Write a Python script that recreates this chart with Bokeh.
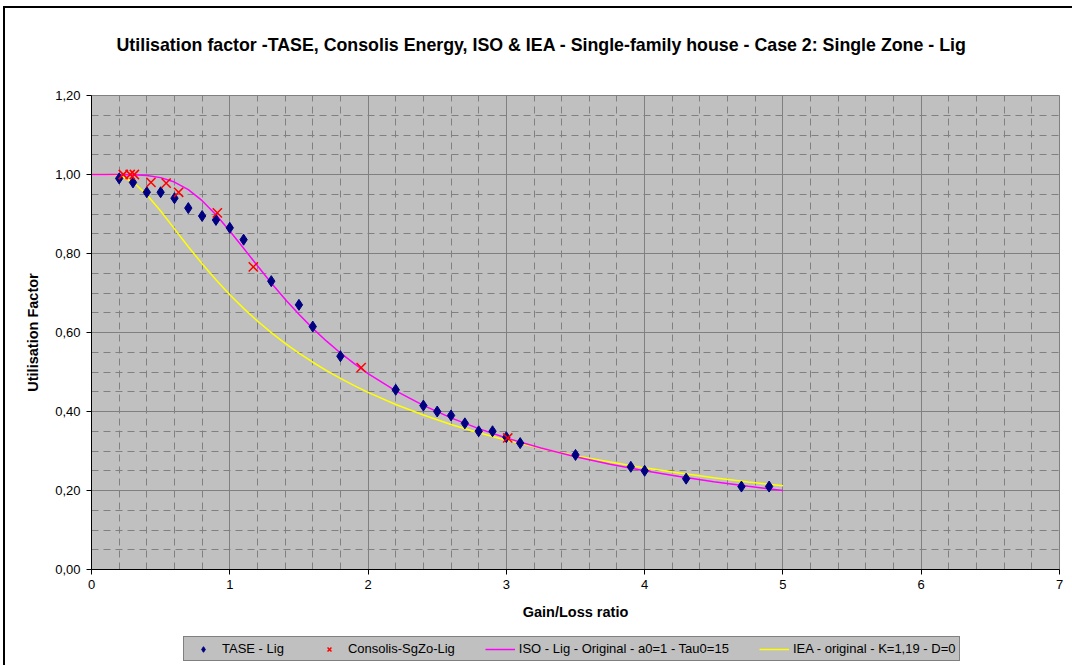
from bokeh.plotting import figure
from bokeh.layouts import column
from bokeh.models import Range1d, FixedTicker, CustomJSTickFormatter, Legend, LegendItem
from bokeh.embed import file_html
from bokeh.resources import INLINE

# ---- data ----
tase_x = [0.2, 0.3, 0.4, 0.5, 0.6, 0.7, 0.8, 0.9, 1.0, 1.1, 1.3, 1.5, 1.6, 1.8,
          2.2, 2.4, 2.5, 2.6, 2.7, 2.8, 2.9, 3.0, 3.1, 3.5, 3.9, 4.0, 4.3, 4.7, 4.9]
tase_y = [0.99, 0.98, 0.955, 0.955, 0.94, 0.915, 0.895, 0.885, 0.865, 0.835, 0.73, 0.67, 0.615, 0.54,
          0.455, 0.415, 0.40, 0.39, 0.37, 0.35, 0.35, 0.335, 0.32, 0.29, 0.26, 0.25, 0.23, 0.21, 0.21]

consolis_x = [0.23, 0.28, 0.31, 0.43, 0.54, 0.63, 0.91, 1.17, 1.95, 3.01]
consolis_y = [1.0, 1.0, 1.0, 0.98, 0.978, 0.955, 0.903, 0.766, 0.511, 0.333]

curve_x = [0.0, 0.1, 0.2, 0.3, 0.4, 0.5, 0.6, 0.7, 0.8, 0.9, 1.0, 1.1, 1.2, 1.3, 1.4, 1.5,
           1.6, 1.7, 1.8, 1.9, 2.0, 2.2, 2.4, 2.6, 2.8, 3.0, 3.25, 3.5, 3.75, 4.0,
           4.25, 4.5, 4.75, 5.0]
iso_y = [1.0, 1.0, 1.0, 0.9995, 0.9975, 0.9921, 0.9808, 0.9615, 0.9337, 0.8981, 0.8571,
         0.8133, 0.7688, 0.7255, 0.6843, 0.6460, 0.6105, 0.5780, 0.5482, 0.5210, 0.4961,
         0.4524, 0.4154, 0.3839, 0.3567, 0.3330, 0.3075, 0.2856, 0.2666, 0.2500,
         0.2353, 0.2222, 0.2105, 0.2000]
iea_y = [1.0, 1.0, 0.9974, 0.9811, 0.9490, 0.9074, 0.8624, 0.8173, 0.7740, 0.7334, 0.6958,
         0.6610, 0.6290, 0.5996, 0.5726, 0.5477, 0.5247, 0.5034, 0.4837, 0.4654, 0.4484,
         0.4178, 0.3910, 0.3673, 0.3462, 0.3274, 0.3066, 0.2882, 0.2719, 0.2573,
         0.2442, 0.2324, 0.2216, 0.2118]

x_ticks = [0, 1, 2, 3, 4, 5, 6, 7]
x_minor = [i / 5 for i in range(36) if i % 5 != 0]
y_ticks = [0.0, 0.2, 0.4, 0.6, 0.8, 1.0, 1.2]
y_minor = [i / 20 for i in range(25) if i % 4 != 0]

title_text = "Utilisation factor -TASE, Consolis Energy, ISO & IEA - Single-family house - Case 2: Single Zone - Lig"
labels = ["TASE - Lig", "Consolis-SgZo-Lig", "ISO - Lig - Original - a0=1 - Tau0=15",
          "IEA - original - K=1,19 - D=0"]

FONT = "Liberation Sans"
C_TASE, C_CONS, C_ISO, C_IEA = "#000080", "#FF0000", "#FF00FF", "#FFFF00"

p = figure(frame_width=968, frame_height=474, output_backend="svg", toolbar_location=None,
           x_range=Range1d(0, 7), y_range=Range1d(0, 1.2),
           min_border_left=86, min_border_right=13, min_border_top=87, min_border_bottom=56)

p.background_fill_color = "#C0C0C0"
p.border_fill_color = "white"
p.outline_line_color = "#808080"

# title (second blank line only reserves vertical room)
p.title.text = title_text + "\n "
p.title.align = "left"
p.title.vertical_align = "top"
p.title.offset = 25
p.title.standoff = 37
p.title.text_font = FONT
p.title.text_font_size = "17.8px"
p.title.text_font_style = "bold"
p.title.text_color = "black"

# grids
p.xgrid.ticker = FixedTicker(ticks=x_ticks, minor_ticks=x_minor)
p.ygrid.ticker = FixedTicker(ticks=y_ticks, minor_ticks=y_minor)
for g in (p.xgrid, p.ygrid):
    g.grid_line_color = "#808080"
    g.grid_line_width = 1
    g.minor_grid_line_color = "#808080"
    g.minor_grid_line_dash = "7 5"
    g.minor_grid_line_width = 1

# axes
p.xaxis.ticker = FixedTicker(ticks=x_ticks)
p.yaxis.ticker = FixedTicker(ticks=y_ticks)
p.yaxis.formatter = CustomJSTickFormatter(code="return tick.toFixed(2).replace('.', ',');")
p.xaxis.axis_label = "Gain/Loss ratio"
p.yaxis.axis_label = "Utilisation Factor"
for ax in (p.xaxis, p.yaxis):
    ax.axis_line_color = "black"
    ax.major_tick_line_color = "black"
    ax.major_tick_out = 5
    ax.major_tick_in = 0
    ax.minor_tick_out = 0
    ax.minor_tick_in = 0
    ax.major_label_text_font = FONT
    ax.major_label_text_font_size = "13px"
    ax.major_label_text_color = "black"
    ax.axis_label_text_font = FONT
    ax.axis_label_text_font_size = "14.5px"
    ax.axis_label_text_font_style = "bold"
    ax.axis_label_text_color = "black"
p.xaxis.major_label_standoff = 5
p.xaxis.axis_label_standoff = 12
p.yaxis.major_label_standoff = 6
p.yaxis.axis_label_standoff = 11

# series
p.line(curve_x, iea_y, line_color=C_IEA, line_width=1.5)
p.line(curve_x, iso_y, line_color=C_ISO, line_width=1.5)
p.scatter(tase_x, tase_y, marker="diamond", size=11, fill_color=C_TASE, line_color=C_TASE)
p.scatter(consolis_x, consolis_y, marker="x", size=13, line_color=C_CONS, line_width=1.5)

# legend strip below the chart: its own small canvas whose y range lies above
# every data value, so the series there only lend their styles to the legend keys
lg = figure(width=1067, height=40, output_backend="svg", toolbar_location=None,
            x_range=Range1d(0, 7), y_range=Range1d(5, 6),
            min_border_left=0, min_border_right=0, min_border_top=0, min_border_bottom=0)
lg.axis.visible = False
lg.grid.visible = False
lg.outline_line_color = None
lg.background_fill_color = "white"
lg.border_fill_color = "white"
k_tase = lg.scatter(tase_x, tase_y, marker="diamond", size=11, fill_color=C_TASE, line_color=C_TASE)
k_cons = lg.scatter(consolis_x, consolis_y, marker="x", size=11, line_color=C_CONS, line_width=1.5)
k_iso = lg.line(curve_x, iso_y, line_color=C_ISO, line_width=1.5)
k_iea = lg.line(curve_x, iea_y, line_color=C_IEA, line_width=1.5)

legend = Legend(items=[LegendItem(label=labels[0], renderers=[k_tase]),
                       LegendItem(label=labels[1], renderers=[k_cons]),
                       LegendItem(label=labels[2], renderers=[k_iso]),
                       LegendItem(label=labels[3], renderers=[k_iea])],
                orientation="horizontal", location=(92, 4))
legend.background_fill_color = "#C0C0C0"
legend.background_fill_alpha = 1
legend.border_line_color = "#404040"
legend.border_line_width = 1
legend.label_text_font = FONT
legend.label_text_font_size = "13px"
legend.label_text_color = "black"
legend.glyph_width = 30
legend.glyph_height = 14
legend.label_height = 14
legend.label_standoff = 4
legend.spacing = 30
legend.padding = 4
legend.margin = 0
lg.add_layout(legend, "center")

page = column(p, lg, spacing=0)
page.styles = {"margin-left": "3px", "margin-top": "6px",
               "border-left": "2px solid black", "border-top": "2px solid black"}

open("out.html", "w").write(file_html(page, INLINE))
